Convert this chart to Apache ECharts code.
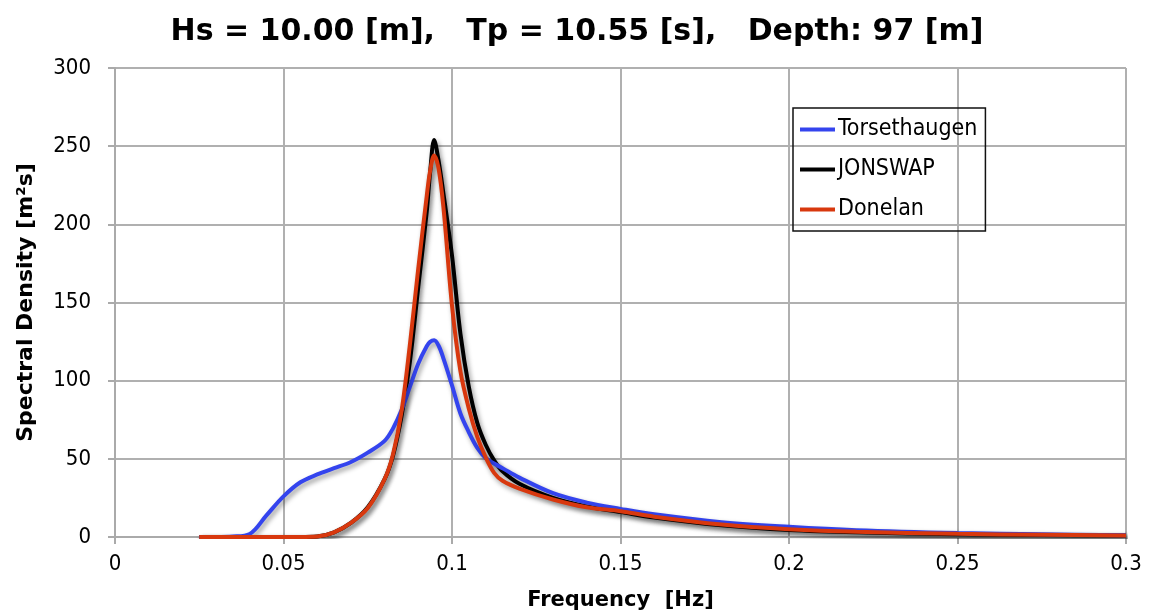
<!DOCTYPE html>
<html><head><meta charset="utf-8">
<script src="https://cdn.jsdelivr.net/npm/echarts@6/dist/echarts.min.js"></script>
<style>html,body{margin:0;padding:0;background:#fff}#c{width:1154px;height:616px}</style>
</head><body><div id="c"></div>
<script>
const freq = [0.025,0.03,0.035,0.04,0.045,0.05,0.055,0.06,0.065,0.07,0.075,0.08,
  0.0825,0.085,0.0875,0.09,0.0925,0.0935,0.0947,0.096,0.0975,0.1,0.1025,0.105,0.1075,0.11,0.1125,0.115,0.12,
  0.13,0.14,0.15,0.16,0.18,0.2,0.22,0.25,0.275,0.3];
const torsethaugen = [0,0,0.3,2,14,26,35,40,44,48,54,61.5,
  69.5,81,96,111,122,124.8,125.8,122.5,114,97,79,67,57,50.5,47,44,38,
  28,22,18,14.5,9.5,6.5,4.3,2.5,1.7,1.1];
const jonswap = [0,0,0,0,0,0,0,0.3,3,9,19,37,
  52,77,112,160,208,233,254,241,219,180,130,96,73,59,49,42,34,
  25,19.5,16,12.5,7.5,4.5,3,1.8,1.3,1];
const donelan = [0,0,0,0,0,0,0,0.3,3,9,18.5,37,
  53,80,123,172,218,234,244,236,210,148,106,82,64,51,41,36,31,
  24,19,16.5,13,8,5,3.3,2,1.4,1];
const seriesNames = ['Torsethaugen','JONSWAP','Donelan'];
const seriesColors = ['#3444ee','#000000','#d8380e'];
const seriesData = [torsethaugen, jonswap, donelan];

const chart = echarts.init(document.getElementById('c'));
const cond = "'DejaVu Sans Condensed','DejaVu Sans',sans-serif";
const reg = "'DejaVu Sans',sans-serif";
chart.setOption({
  animation:false,
  title:{text:'Hs = 10.00 [m],   Tp = 10.55 [s],   Depth: 97 [m]',left:'center',top:12,
    textStyle:{fontFamily:reg,fontWeight:'bold',fontSize:30,color:'#000'}},
  grid:{left:115,right:28,top:68,bottom:79},
  legend:{orient:'vertical',left:793,top:108,
    borderColor:'#111',borderWidth:1.5,padding:[10,8,10,7],itemGap:17,
    itemWidth:35,itemHeight:4,icon:'rect',
    textStyle:{fontFamily:cond,fontSize:23,color:'#000',padding:[0,0,0,-2]},
    data:seriesNames},
  xAxis:{type:'value',min:0,max:0.3,interval:0.05,
    name:'Frequency  [Hz]',nameLocation:'middle',nameGap:53,
    nameTextStyle:{fontFamily:reg,fontWeight:'bold',fontSize:21,color:'#000'},
    axisLine:{onZero:false,lineStyle:{color:'#aaa',width:2}},
    axisTick:{show:true,length:7,lineStyle:{color:'#aaa',width:2}},
    axisLabel:{fontFamily:cond,fontSize:22,color:'#000',margin:16},
    splitLine:{show:true,lineStyle:{color:'#b0b0b0',width:2}}},
  yAxis:{type:'value',min:0,max:300,interval:50,
    name:'Spectral Density [m²s]',nameLocation:'middle',nameGap:78,
    nameTextStyle:{fontFamily:reg,fontWeight:'bold',fontSize:22,color:'#000'},
    axisLine:{show:true,lineStyle:{color:'#aaa',width:2}},
    axisTick:{show:true,length:7,lineStyle:{color:'#aaa',width:2}},
    axisLabel:{fontFamily:cond,fontSize:22,color:'#000',margin:24},
    splitLine:{show:true,lineStyle:{color:'#b0b0b0',width:2}}},
  series: seriesNames.map((n,i)=>({
    name:n,type:'line',smooth:0.35,showSymbol:false,symbol:'none',
    data:freq.map((f,k)=>[f,seriesData[i][k]]),
    itemStyle:{color:seriesColors[i]},
    lineStyle:{color:seriesColors[i],width:4,shadowColor:'rgba(0,0,0,0.4)',shadowBlur:5,shadowOffsetX:2,shadowOffsetY:3},
    z: i===0?3:(i===1?2:4)
  }))
});
</script></body></html>
